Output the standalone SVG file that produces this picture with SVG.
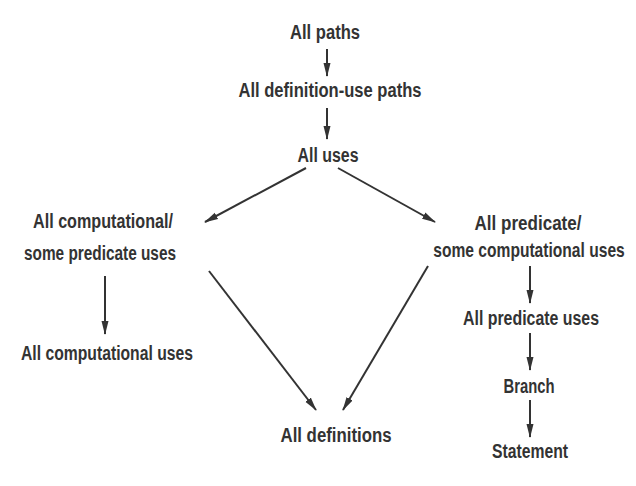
<svg xmlns="http://www.w3.org/2000/svg" width="636" height="486" viewBox="0 0 636 486">
<style>
text{font-family:"Liberation Sans Narrow","Liberation Sans",Arial,sans-serif;font-weight:bold;font-size:20px;fill:#333;text-anchor:middle}
.c line{stroke:#333;stroke-width:2;fill:none}
</style>
<defs>
<marker id="ah" viewBox="0 0 14 8" refX="13" refY="4" markerWidth="14" markerHeight="8" markerUnits="userSpaceOnUse" orient="auto">
<path d="M0,0.5 L14,4 L0,7.5 Z" fill="#333"/>
</marker>
</defs>
<rect width="636" height="486" fill="#fff"/>
<g id="n-allpaths"><text x="325" y="39" textLength="70" lengthAdjust="spacingAndGlyphs">All paths</text></g>
<g id="n-dupaths"><text x="330" y="97" textLength="183" lengthAdjust="spacingAndGlyphs">All definition-use paths</text></g>
<g id="n-uses"><text x="328" y="162" textLength="61" lengthAdjust="spacingAndGlyphs">All uses</text></g>
<g id="n-acsp"><text x="103" y="228" textLength="140" lengthAdjust="spacingAndGlyphs">All computational/</text><text x="100" y="260" textLength="152" lengthAdjust="spacingAndGlyphs">some predicate uses</text></g>
<g id="n-apsc"><text x="528" y="230" textLength="107" lengthAdjust="spacingAndGlyphs">All predicate/</text><text transform="translate(529,257) scale(0.78,1)" x="0" y="0">some computational uses</text></g>
<g id="n-acu"><text x="107" y="360" textLength="172" lengthAdjust="spacingAndGlyphs">All computational uses</text></g>
<g id="n-apu"><text x="531" y="325" textLength="136" lengthAdjust="spacingAndGlyphs">All predicate uses</text></g>
<g id="n-defs"><text x="336" y="442" textLength="111" lengthAdjust="spacingAndGlyphs">All definitions</text></g>
<g id="n-branch"><text x="529" y="393" textLength="51" lengthAdjust="spacingAndGlyphs">Branch</text></g>
<g id="n-stmt"><text x="530" y="458" textLength="76" lengthAdjust="spacingAndGlyphs">Statement</text></g>
<g class="c" id="connectors">
<line x1="327" y1="49" x2="327" y2="76" marker-end="url(#ah)"/>
<line x1="327" y1="108" x2="327" y2="139" marker-end="url(#ah)"/>
<line x1="306" y1="168" x2="205" y2="222" marker-end="url(#ah)"/>
<line x1="338" y1="168" x2="435" y2="222" marker-end="url(#ah)"/>
<line x1="105" y1="276" x2="105" y2="334" marker-end="url(#ah)"/>
<line x1="209" y1="271" x2="316" y2="410" marker-end="url(#ah)"/>
<line x1="428" y1="266" x2="343" y2="410" marker-end="url(#ah)"/>
<line x1="530" y1="266" x2="530" y2="303" marker-end="url(#ah)"/>
<line x1="530" y1="333" x2="530" y2="370" marker-end="url(#ah)"/>
<line x1="530" y1="400" x2="530" y2="437" marker-end="url(#ah)"/>
</g>
</svg>
